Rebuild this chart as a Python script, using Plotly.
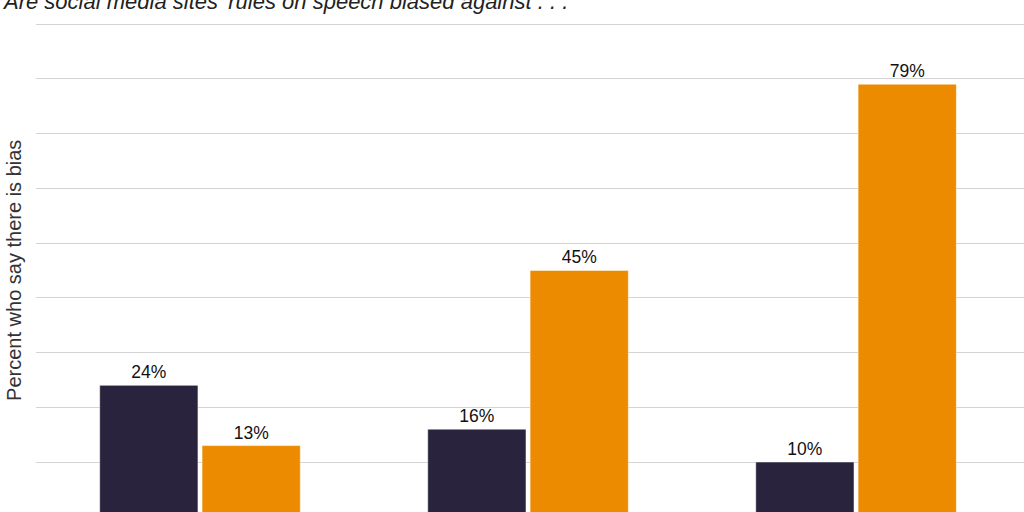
import plotly.graph_objects as go

# survey data (Pew-style grouped bars)
groups = ["Liberals", "Moderates", "Conservatives"]
dem_vals = [24, 16, 10]
rep_vals = [13, 45, 79]
series_names = ["Democrats", "Republicans"]

dark = "#29233d"
orange = "#ec8b00"

fig = go.Figure()
for name, vals, col in zip(series_names, [dem_vals, rep_vals], [dark, orange]):
    fig.add_trace(go.Bar(
        x=groups, y=vals, name=name,
        marker=dict(color=col, line=dict(color="white", width=0.5)),
        text=[f"{v}%" for v in vals],
        textposition="outside",
        textfont=dict(size=17.5, color="#111111"),
        cliponaxis=False,
    ))

fig.add_annotation(
    text="<i>Are social media sites' rules on speech biased against . . .</i>",
    xref="paper", yref="paper", x=-0.0364, y=1.011,
    xanchor="left", yanchor="bottom", showarrow=False,
    font=dict(size=22, color="#222222"),
)
# y-axis title as rotated text
fig.add_annotation(
    text="Percent who say there is bias",
    xref="paper", yref="paper", x=-0.0223, y=0.493,
    xanchor="center", yanchor="middle", textangle=-90, showarrow=False,
    font=dict(size=20, color="#333333"),
)

fig.update_layout(
    width=1024, height=512,
    margin=dict(l=36, r=0, t=21, b=0),
    template="simple_white",
    font=dict(family="Liberation Sans, Arial, sans-serif"),
    barmode="group", bargap=0.376, bargroupgap=0.04,
    showlegend=False,
    plot_bgcolor="white", paper_bgcolor="white",
    xaxis=dict(range=[-0.5, 2.512], showline=False, ticks="", showticklabels=False,
               automargin=False),
    yaxis=dict(range=[0.87, 90.55], dtick=10, showgrid=True, gridcolor="#d3d3d3", gridwidth=1.3,
               showline=False, ticks="", showticklabels=False, zeroline=False, automargin=False),
)

# drop the page's default body margin so the figure sits at the window corner
fig.write_html("out.html", config={"displayModeBar": False},
               post_script="document.body.style.margin='0px';")
